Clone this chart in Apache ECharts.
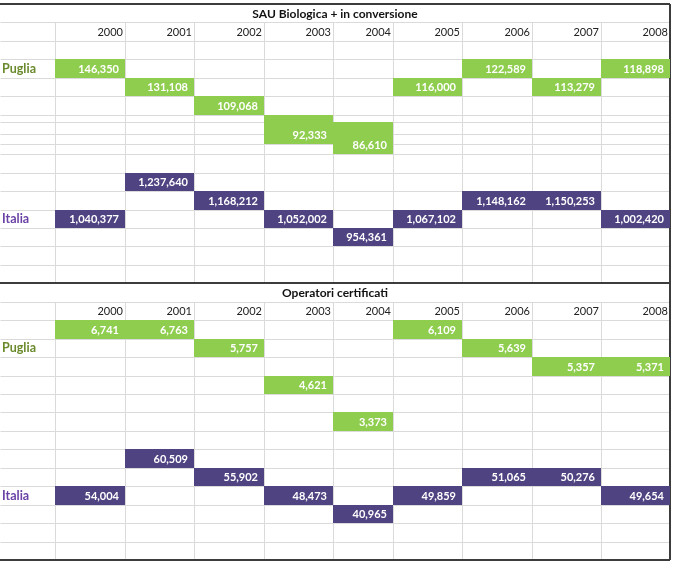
<!DOCTYPE html>
<html><head><meta charset="utf-8">
<script src="https://cdn.jsdelivr.net/npm/echarts@6/dist/echarts.min.js"></script>
<style>html,body{margin:0;padding:0;background:#fff}#c{width:674px;height:563px}</style>
</head><body><div id="c"></div>
<script>
// ---------------- data ----------------
const years = ['2000','2001','2002','2003','2004','2005','2006','2007','2008'];
const sectionTitles = ['SAU Biologica + in conversione', 'Operatori certificati'];
const regionNames = ['Puglia', 'Italia'];

const sauPuglia = [146350,131108,109068,92333,86610,116000,122589,113279,118898];
const sauItalia = [1040377,1237640,1168212,1052002,954361,1067102,1148162,1150253,1002420];
const opPuglia  = [6741,6763,5757,4621,3373,6109,5639,5357,5371];
const opItalia  = [54004,60509,55902,48473,40965,49859,51065,50276,49654];

// table band (row) where each value is written
const sauPugliaRowFrom = [3,4,5,6,7,4,3,4,3];
const sauPugliaRowTo   = [3,4,5,8,9,4,3,4,3];
const sauItaliaRow     = [13,11,12,13,14,13,12,12,13];
const opPugliaRow      = [2,2,3,5,7,2,3,4,4];
const opItaliaRow      = [11,9,10,11,12,11,10,10,11];
// rows of the region labels per section [Puglia, Italia]
const sauLabelRows = [3,13];
const opLabelRows  = [3,11];

// ---------------- layout (sizes only) ----------------
const colWidths = [55,70,69,70,69,60,69,70,69,69];
const rowHeights = [
  [1,1,1,1,1,1,0.41,0.65,0.54,0.54,1,1,1,1,1,1,1],
  Array(15).fill(1)
];
const colEdges = [0]; colWidths.forEach(w => colEdges.push(colEdges[colEdges.length-1] + w));
const rowEdges = rowHeights.map(h => { const e=[0]; h.forEach(v=>e.push(e[e.length-1]+v)); return e; });
const sectionStart = [0, rowEdges[0][rowEdges[0].length-1]];
const totalUnits = sectionStart[1] + rowEdges[1][rowEdges[1].length-1];
const tableW = colEdges[colEdges.length-1];

const GREEN = '#8fcd4f', PURPLE = '#4f4382';
const LINE = '#dadada', BORDER = '#3c3c3c';
const FONT = 'Lato';
const fmt = v => v.toLocaleString('en-US');
const px = v => Math.round(v) + 0.5;

// grid lines
const gridLines = [];
[0,1].forEach(s => {
  const e = rowEdges[s], y0 = sectionStart[s];
  for (let r = 1; r < e.length-1; r++) gridLines.push([0, y0+e[r], tableW, y0+e[r], 0]);
  for (let c = 1; c < colEdges.length-1; c++) gridLines.push([colEdges[c], y0+e[1], colEdges[c], y0+e[e.length-1], 0]);
});
gridLines.push([0, 0, tableW, 0, 1]);
gridLines.push([0, sectionStart[1], tableW, sectionStart[1], 1]);
gridLines.push([0, totalUnits, tableW, totalUnits, 1]);
gridLines.push([tableW, 0, tableW, totalUnits, 1]);

const lineSeries = {
  type:'custom', z:1, silent:true, data:gridLines,
  renderItem(p, api){
    const a = api.coord([api.value(0), api.value(1)]);
    const b = api.coord([api.value(2), api.value(3)]);
    const thick = api.value(4) === 1;
    const f = thick ? (v=>Math.round(v)) : px;
    return {type:'line', shape:{x1:f(a[0]), y1:f(a[1]), x2:f(b[0]), y2:f(b[1])},
      style:{stroke: thick ? BORDER : LINE, lineWidth: thick ? 2 : 1}};
  }
};

function cellSeries(name, section, values, rowFrom, rowTo, color){
  return {
    type:'custom', name, z:3, silent:true,
    data: values.map((v,i)=>[i, rowFrom[i], rowTo[i], v]),
    renderItem(p, api){
      const i = api.value(0), r0 = api.value(1), r1 = api.value(2), v = api.value(3);
      const a = api.coord([colEdges[i+1], sectionStart[section] + rowEdges[section][r0]]);
      const b = api.coord([colEdges[i+2], sectionStart[section] + rowEdges[section][r1+1]]);
      const unit = Math.abs(api.size([0,1])[1]);
      const x0 = Math.round(a[0]), y0 = Math.round(a[1]), x1 = Math.round(b[0]), y1 = Math.round(b[1]);
      return {type:'group', children:[
        {type:'rect', shape:{x:x0, y:y0, width:x1-x0, height:y1-y0}, style:{fill:color}},
        {type:'text', style:{text:fmt(v), x:x1-6, y:y1-unit/2+0.5, align:'right', verticalAlign:'middle',
          fill:'#ffffff', font:'bold 11px ' + FONT}}
      ]};
    }
  };
}

// header texts (titles + years) and region labels
const textData = [];
[0,1].forEach(s => {
  textData.push([tableW/2, sectionStart[s] + (rowEdges[s][0]+rowEdges[s][1])/2, 't', sectionTitles[s]]);
  years.forEach((y,i) => textData.push([colEdges[i+2]-2, sectionStart[s] + (rowEdges[s][1]+rowEdges[s][2])/2, 'y', y]));
  const lr = s === 0 ? sauLabelRows : opLabelRows;
  regionNames.forEach((n,k) => textData.push([2, sectionStart[s] + (rowEdges[s][lr[k]]+rowEdges[s][lr[k]+1])/2, 'r'+k, n]));
});
const textSeries = {
  type:'custom', z:4, silent:true,
  data: textData,
  dimensions: ['x','y',{name:'kind',type:'ordinal'},{name:'txt',type:'ordinal'}],
  renderItem(p, api){
    const d = textData[p.dataIndex];
    const c = api.coord([d[0], d[1]]);
    let style;
    if (d[2] === 't') style = {align:'center', font:'bold 12px '+FONT, fill:'#111'};
    else if (d[2] === 'y') style = {align:'right', font:'11px '+FONT, fill:'#222'};
    else style = {align:'left', font:'bold 12.5px '+FONT, fill: d[2]==='r0' ? '#6a8a2c' : '#6a42a6'};
    return {type:'text', style:Object.assign({text:d[3], x:c[0], y:c[1]+0.5, verticalAlign:'middle'}, style)};
  }
};

const chart = echarts.init(document.getElementById('c'));
chart.setOption({
  animation:false,
  grid:{left:0, top:4, width:670, height:556, containLabel:false},
  xAxis:{type:'value', min:0, max:tableW, show:false},
  yAxis:{type:'value', min:0, max:totalUnits, inverse:true, show:false},
  series:[
    lineSeries,
    cellSeries('SAU Puglia', 0, sauPuglia, sauPugliaRowFrom, sauPugliaRowTo, GREEN),
    cellSeries('SAU Italia', 0, sauItalia, sauItaliaRow, sauItaliaRow, PURPLE),
    cellSeries('Operatori Puglia', 1, opPuglia, opPugliaRow, opPugliaRow, GREEN),
    cellSeries('Operatori Italia', 1, opItalia, opItaliaRow, opItaliaRow, PURPLE),
    textSeries
  ]
});
</script></body></html>
